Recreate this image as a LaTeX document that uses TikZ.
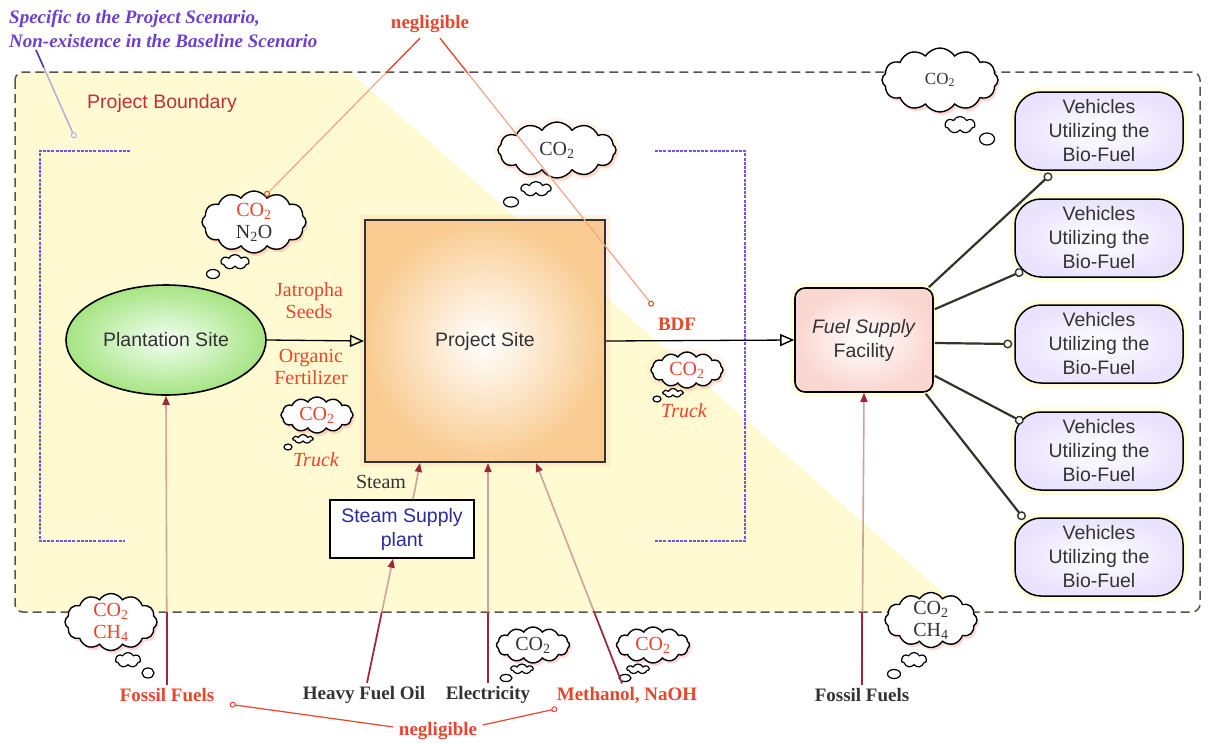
\documentclass[tikz,border=0pt]{standalone}
\usepackage{fontspec}
\setmainfont{Liberation Serif}
\setsansfont{Liberation Sans}
\usetikzlibrary{arrows.meta,shapes.geometric,shapes.symbols,shadows,calc}
\definecolor{yel}{HTML}{FFFAD2}
\definecolor{bnd}{HTML}{555550}
\definecolor{viol}{HTML}{6A3FCF}
\definecolor{violl}{HTML}{BBAAD8}
\definecolor{brk}{HTML}{7452F0}
\definecolor{rtxt}{HTML}{E8452C}
\definecolor{rlight}{HTML}{F2A585}
\definecolor{dred}{HTML}{C0303A}
\definecolor{arr}{HTML}{9B2838}
\definecolor{arrl}{HTML}{D0A29C}
\definecolor{lnk}{HTML}{33332A}
\definecolor{bluet}{HTML}{2B2B9B}
\definecolor{txtg}{HTML}{333333}
\definecolor{vlav}{HTML}{E9E3FD}
\definecolor{pgreen}{HTML}{A6E483}
\definecolor{porange}{HTML}{F9CB90}
\definecolor{ppink}{HTML}{FAD6D0}
\tikzset{
  sftxt/.style={font=\sffamily\fontsize{19.5}{24}\selectfont, text=txtg},
  rmtxt/.style={font=\rmfamily\fontsize{20}{22}\selectfont},
  rmbold/.style={font=\rmfamily\bfseries\fontsize{19}{22}\selectfont},
  glow/.style={preaction={draw=#1, line width=10pt, opacity=0.25}},
  bigcloud/.style={cloud, cloud puffs=12, cloud puff arc=115, cloud ignores aspect, draw=black, line width=1.4pt, fill=white, inner sep=0pt, drop shadow={shadow xshift=2pt, shadow yshift=-3pt, fill=red!40, opacity=0.4}},
  puff/.style={cloud, cloud puffs=7, cloud puff arc=125, cloud ignores aspect, draw=black, line width=1.2pt, fill=white, inner sep=0pt},
  tinypuff/.style={ellipse, draw=black, line width=1.2pt, fill=white, inner sep=0pt},
  feed/.style={draw=arrl, line width=1.6pt, -{Triangle[length=9pt,width=7pt,color=arr]}},
  feedout/.style={draw=arr, line width=1.6pt},
  flow/.style={draw=black, line width=1.3pt, -{Triangle[open,length=14pt,width=12pt,line width=1.4pt]}},
  spoke/.style={draw=lnk, line width=2.2pt, -{Circle[length=9pt,fill=white,line width=1.4pt]}},
  neg/.style={draw=rtxt, line width=1.2pt, -{Circle[open,length=6pt,line width=1pt,color=rtxt]}},
  negin/.style={draw=rlight, line width=1.2pt, -{Circle[open,length=6pt,line width=1pt,color=rtxt]}},
  vehicle/.style={draw=black, line width=1.5pt, rounded corners=26pt, minimum width=168pt, minimum height=78pt, align=center, sftxt, inner color=white, outer color=vlav, glow=yellow!50},
}
\begin{document}
\begin{tikzpicture}[x=1pt,y=-1pt]
\useasboundingbox (0,0) rectangle (1215,742);
% yellow region and boundary
\fill[yel, rounded corners=8pt] (15,72) -- (350,72) -- (965,612) -- (15,612) -- cycle;
\draw[bnd, line width=1.5pt, dash pattern=on 9pt off 5pt, rounded corners=8pt] (15,72) rectangle (1200,612);
\coordinate (bndS) at (0,612);
% brackets
\draw[brk, line width=2pt, dash pattern=on 3pt off 1.2pt] (130,151) -- (40,151) -- (40,541) -- (125,541);
\draw[brk, line width=2pt, dash pattern=on 3pt off 1.2pt] (655,151) -- (745,151) -- (745,541) -- (655,541);
% texts top
\node[anchor=north west, inner sep=0pt, align=left, text=viol, font=\rmfamily\bfseries\itshape\fontsize{19}{24}\selectfont] (spec) at (9,10) {Specific to the Project Scenario,\\Non-existence in the Baseline Scenario};
\node[sftxt, text=dred] (pb) at (162,103) {Project Boundary};
\node[rmbold, text=rtxt] (neg1) at (430,24) {negligible};
\node[rmbold, text=rtxt] (neg2) at (438,731) {negligible};
% main nodes
\node[ellipse, draw=black, line width=1.6pt, minimum width=200pt, minimum height=110pt, inner color=green!5!white, outer color=pgreen, sftxt] (plant) at (166,340) {Plantation Site};
\node[rectangle, draw=txtg, line width=2pt, minimum width=240pt, minimum height=242pt, inner color=white, outer color=porange, glow=orange!40, sftxt] (ps) at (485,341) {Project Site};
\node[rectangle, draw=black, line width=1.6pt, rounded corners=10pt, minimum width=138pt, minimum height=104pt, inner color=white, outer color=ppink, glow=yellow!50, align=center, sftxt] (fs) at (864,340) {\textit{Fuel Supply}\\Facility};
\foreach \i/\yy in {1/131,2/238,3/344,4/451,5/557}
  \node[vehicle] (v\i) at (1099,\yy) {Vehicles\\Utilizing the\\Bio-Fuel};
\node[rectangle, draw=black, line width=1.5pt, fill=white, minimum width=144pt, minimum height=58pt, align=center, sftxt, text=bluet] (ssp) at (402,529) {Steam Supply\\plant};
% labels
\node[rmtxt, text=rtxt, align=center] (jat) at (309,301) {Jatropha\\Seeds};
\node[rmtxt, text=rtxt, align=center] (org) at (311,367) {Organic\\Fertilizer};
\node[rmbold, text=rtxt] (bdf) at (677,324) {BDF};
\node[rmtxt, text=rtxt, font=\rmfamily\itshape\fontsize{20}{22}\selectfont] (tr1) at (316,460) {Truck};
\node[rmtxt, text=rtxt, font=\rmfamily\itshape\fontsize{20}{22}\selectfont] (tr2) at (684,411) {Truck};
\node[rmtxt, text=txtg] (steam) at (381,482) {Steam};
\node[rmbold, text=rtxt] (ff1) at (167,695) {Fossil Fuels};
\node[rmbold, text=txtg] (hfo) at (364,695) {Heavy Fuel Oil};
\node[rmbold, text=txtg] (elec) at (488,695) {Electricity};
\node[rmbold, text=rtxt] (meth) at (627,695) {Methanol, NaOH};
\node[rmbold, text=txtg] (ff2) at (862,695) {Fossil Fuels};
% clouds
\node[bigcloud, minimum width=104pt, minimum height=62pt, label={[rmtxt,align=center]center:{\textcolor{rtxt}{CO\textsubscript{2}}\\\textcolor{txtg}{N\textsubscript{2}O}}}] (cN) at (254,222) {};
\node[puff, minimum width=28pt, minimum height=15pt] (cNa) at (235,262) {};
\node[tinypuff, minimum width=13pt, minimum height=9pt] (cNb) at (213,274) {};
\node[bigcloud, glow=orange!30, minimum width=118pt, minimum height=56pt, label={[rmtxt,text=txtg]center:CO\textsubscript{2}}] (cT) at (557,150) {};
\node[puff, minimum width=30pt, minimum height=15pt] (cTa) at (536,189) {};
\node[tinypuff, minimum width=15pt, minimum height=10pt] (cTb) at (511,202) {};
\node[bigcloud, minimum width=116pt, minimum height=64pt, label={[rmtxt,text=txtg,font=\rmfamily\fontsize{17}{20}\selectfont]center:CO\textsubscript{2}}] (cR) at (940,80) {};
\node[puff, minimum width=30pt, minimum height=17pt] (cRa) at (960,125) {};
\node[tinypuff, minimum width=15pt, minimum height=12pt] (cRb) at (987,139) {};
\node[bigcloud, minimum width=72pt, minimum height=36pt, label={[rmtxt,text=rtxt]center:CO\textsubscript{2}}] (cL) at (317,415) {};
\node[puff, minimum width=20pt, minimum height=9pt] (cLa) at (303,439) {};
\node[tinypuff, minimum width=8pt, minimum height=6pt] (cLb) at (288,447) {};
\node[bigcloud, glow=orange!30, minimum width=72pt, minimum height=36pt, label={[rmtxt,text=rtxt]center:CO\textsubscript{2}}] (cB) at (687,370) {};
\node[puff, minimum width=20pt, minimum height=9pt] (cBa) at (673,393) {};
\node[tinypuff, minimum width=8pt, minimum height=6pt] (cBb) at (657,399) {};
\node[bigcloud, minimum width=92pt, minimum height=57pt, label={[rmtxt,align=center,text=rtxt]center:{CO\textsubscript{2}\\CH\textsubscript{4}}}] (cF1) at (111,622) {};
\node[puff, minimum width=25pt, minimum height=15pt] (cF1a) at (128,660) {};
\node[tinypuff, minimum width=12pt, minimum height=10pt] (cF1b) at (148,673) {};
\node[bigcloud, minimum width=73pt, minimum height=36pt, label={[rmtxt,text=txtg]center:CO\textsubscript{2}}] (cE) at (533,645) {};
\node[puff, minimum width=22pt, minimum height=10pt] (cEa) at (522,669) {};
\node[tinypuff, minimum width=12pt, minimum height=7pt] (cEb) at (506,678) {};
\node[bigcloud, minimum width=73pt, minimum height=36pt, label={[rmtxt,text=rtxt]center:CO\textsubscript{2}}] (cM) at (653,645) {};
\node[puff, minimum width=22pt, minimum height=10pt] (cMa) at (638,669) {};
\node[tinypuff, minimum width=12pt, minimum height=7pt] (cMb) at (625,678) {};
\node[bigcloud, minimum width=92pt, minimum height=55pt, label={[rmtxt,align=center,text=txtg]center:{CO\textsubscript{2}\\CH\textsubscript{4}}}] (cF2) at (931,620) {};
\node[puff, minimum width=25pt, minimum height=15pt] (cF2a) at (914,660) {};
\node[tinypuff, minimum width=13pt, minimum height=9pt] (cF2b) at (894,674) {};
% main flows
\draw[flow] (plant.east) -- (ps.west);
\draw[flow] (ps.east) -- (fs.west);
% spokes
\draw[spoke] ([shift={(-5,0)}]fs.north east) -- ([shift={(37,3)}]v1.south west);
\draw[spoke] ([shift={(1,22)}]fs.north east) -- ([shift={(9,-7)}]v2.south west);
\draw[spoke] ([shift={(1,3)}]fs.east) -- ([shift={(-2,0)}]v3.west);
\draw[spoke] ([shift={(1,-17)}]fs.south east) -- ([shift={(9,11)}]v4.north west);
\draw[spoke] ([shift={(-8,1)}]fs.south east) -- ([shift={(10,2)}]v5.north west);
% feeds
\coordinate (hfoT) at ([shift={(-9,0)}]ssp.south);
\coordinate (hfoS) at ([shift={(3,0)}]hfo.north);
\coordinate (methS) at ([shift={(-5,0)}]meth.north);
\coordinate (methT) at ([shift={(51,0)}]ps.south);
\draw[feed] (ff1.north) -- (plant.south);
\draw[feedout] (ff1.north) -- (ff1.north |- bndS);
\draw[feed] (hfoS) -- (hfoT);
\draw[feedout] (hfoS) -- ($(hfoS)!0.571!(hfoT)$);
\draw[feed] ([shift={(11,0)}]ssp.north) -- ([shift={(-65,0)}]ps.south);
\draw[feed] (elec.north) -- (elec.north |- ps.south);
\draw[feedout] (elec.north) -- (elec.north |- bndS);
\draw[feed] (methS) -- (methT);
\draw[feedout] (methS) -- ($(methS)!0.329!(methT)$);
\draw[feed] (ff2.north) -- (fs.south);
\draw[feedout] (ff2.north) -- (ff2.north |- bndS);
% negligible links
\coordinate (n1a) at ([shift={(-10,2)}]neg1.south);
\coordinate (n1e) at ([shift={(11,-26)}]cN.center);
\coordinate (n2a) at ([shift={(10,2)}]neg1.south);
\coordinate (n2e) at ([shift={(-24,-18)}]bdf.center);
\draw[negin] (n1a) -- (n1e);
\draw[rtxt, line width=1.2pt] (n1a) -- ($(n1a)!0.22!(n1e)$);
\draw[negin] (n2a) -- (n2e);
\draw[rtxt, line width=1.2pt] (n2a) -- ($(n2a)!0.13!(n2e)$);
\draw[neg] ([shift={(-2,-4)}]neg2.west) -- ([shift={(12,-1)}]ff1.south east);
\draw[neg] ([shift={(2,-6)}]neg2.east) -- ([shift={(4,2)}]meth.south west);
% specific-scenario pointer
\coordinate (specE) at (75,138);
\coordinate (specS) at ([shift={(27,2)}]spec.south west);
\draw[violl, line width=1.5pt, -{Circle[open,length=6pt,line width=1pt]}] (specS) -- (specE);
\draw[viol!80!black, line width=1.5pt] (specS) -- ($(specS)!0.2!(specE)$);
\end{tikzpicture}
\end{document}
